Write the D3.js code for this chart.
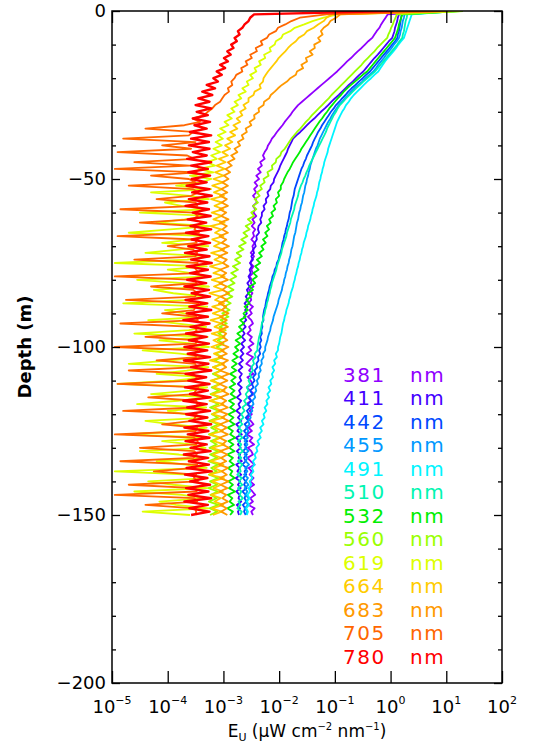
<!DOCTYPE html>
<html>
<head>
<meta charset="utf-8">
<script src="https://cdn.jsdelivr.net/npm/d3@7"></script>
<style>
  body { margin: 0; background: #fff; }
  text { font-family: "DejaVu Sans", sans-serif; fill: #000; }
</style>
</head>
<body>
<svg id="chart" width="533" height="749"></svg>
<script>
// wavelengths (nm) and the colour used for each profile
const wavelengths = [381, 411, 442, 455, 491, 510, 532, 560, 619, 664, 683, 705, 780];
const lineColors = ['#9000ff', '#4400ff', '#0048ff', '#0098ff', '#00f4ff', '#00f5b0', '#00ee00',
  '#99ff00', '#ddff00', '#ffcc00', '#ff9900', '#ff6600', '#ff0000'];

// axis ticks
const depthTicks = [0, -50, -100, -150, -200];
const depthMinorTicks = [-10, -20, -30, -40, -60, -70, -80, -90, -110, -120, -130, -140, -160, -170, -180, -190];
const euTickExponents = [-5, -4, -3, -2, -1, 0, 1, 2];

// depth of each sample (m), 1 m bins; the first one is the surface reading
const depths = d3.range(0, 151);

// log10 of upwelling radiance Eu, one value per depth bin
const logEu381 = [
  0.90, -0.05, -0.09, -0.13, -0.17, -0.20, -0.25, -0.29, -0.33, -0.40, -0.46,
  -0.52, -0.59, -0.65, -0.71, -0.78, -0.84, -0.90, -0.96, -1.03, -1.10,
  -1.17, -1.24, -1.31, -1.38, -1.45, -1.52, -1.59, -1.66, -1.71, -1.76,
  -1.80, -1.85, -1.90, -1.94, -1.99, -2.04, -2.08, -2.13, -2.16, -2.20,
  -2.22, -2.26, -2.29, -2.26, -2.34, -2.31, -2.38, -2.33, -2.41, -2.36,
  -2.44, -2.39, -2.45, -2.41, -2.47, -2.42, -2.40, -2.47, -2.43, -2.46,
  -2.41, -2.48, -2.44, -2.49, -2.43, -2.47, -2.45, -2.50, -2.44, -2.48,
  -2.46, -2.51, -2.45, -2.49, -2.52, -2.46, -2.50, -2.47, -2.53, -2.49,
  -2.51, -2.46, -2.54, -2.48, -2.52, -2.50, -2.55, -2.47, -2.53, -2.49,
  -2.56, -2.50, -2.47, -2.54, -2.51, -2.57, -2.49, -2.53, -2.46, -2.55,
  -2.50, -2.58, -2.47, -2.53, -2.59, -2.49, -2.54, -2.46, -2.57, -2.51,
  -2.48, -2.58, -2.52, -2.45, -2.56, -2.50, -2.59, -2.47, -2.53, -2.49,
  -2.57, -2.51, -2.46, -2.55, -2.49, -2.58, -2.48, -2.53, -2.45, -2.56,
  -2.50, -2.47, -2.57, -2.51, -2.44, -2.55, -2.49, -2.53, -2.46, -2.52,
  -2.45, -2.54, -2.48, -2.43, -2.52, -2.47, -2.55, -2.44, -2.50, -2.47
];
const logEu411 = [
  1.00, 0.15, 0.13, 0.12, 0.10, 0.08, 0.07, 0.05, 0.03, -0.03, -0.08,
  -0.13, -0.18, -0.23, -0.29, -0.34, -0.39, -0.44, -0.49, -0.56, -0.62,
  -0.68, -0.75, -0.81, -0.87, -0.93, -1.00, -1.06, -1.12, -1.18, -1.25,
  -1.31, -1.37, -1.44, -1.50, -1.56, -1.62, -1.69, -1.75, -1.78, -1.81,
  -1.84, -1.86, -1.89, -1.92, -1.95, -1.98, -2.00, -2.03, -2.06, -2.09,
  -2.10, -2.15, -2.16, -2.21, -2.19, -2.24, -2.23, -2.28, -2.26, -2.31,
  -2.31, -2.34, -2.32, -2.37, -2.38, -2.36, -2.41, -2.40, -2.44, -2.42,
  -2.47, -2.45, -2.50, -2.47, -2.52, -2.49, -2.53, -2.51, -2.55, -2.52,
  -2.57, -2.53, -2.58, -2.55, -2.60, -2.56, -2.62, -2.57, -2.61, -2.58,
  -2.63, -2.59, -2.65, -2.60, -2.66, -2.62, -2.67, -2.61, -2.68, -2.63,
  -2.69, -2.64, -2.70, -2.65, -2.72, -2.66, -2.73, -2.67, -2.71, -2.68,
  -2.74, -2.67, -2.72, -2.69, -2.76, -2.68, -2.73, -2.70, -2.77, -2.69,
  -2.74, -2.68, -2.77, -2.71, -2.75, -2.67, -2.78, -2.70, -2.74, -2.69,
  -2.76, -2.70, -2.73, -2.67, -2.77, -2.71, -2.75, -2.68, -2.78, -2.70,
  -2.74, -2.69, -2.77, -2.71, -2.73, -2.68, -2.76, -2.70, -2.74, -2.72
];
const logEu442 = [
  1.05, 0.20, 0.19, 0.18, 0.17, 0.16, 0.15, 0.13, 0.12, 0.08, 0.03,
  -0.02, -0.07, -0.12, -0.17, -0.22, -0.27, -0.32, -0.37, -0.44, -0.50,
  -0.57, -0.63, -0.70, -0.76, -0.81, -0.87, -0.92, -0.98, -1.02, -1.07,
  -1.11, -1.15, -1.19, -1.23, -1.26, -1.30, -1.33, -1.36, -1.39, -1.41,
  -1.44, -1.47, -1.50, -1.52, -1.55, -1.57, -1.60, -1.62, -1.64, -1.66,
  -1.68, -1.70, -1.72, -1.73, -1.74, -1.76, -1.77, -1.78, -1.79, -1.81,
  -1.82, -1.83, -1.85, -1.86, -1.88, -1.89, -1.91, -1.92, -1.94, -1.95,
  -1.96, -1.98, -2.00, -2.01, -2.04, -2.05, -2.08, -2.09, -2.12, -2.13,
  -2.15, -2.17, -2.18, -2.20, -2.21, -2.23, -2.24, -2.25, -2.27, -2.28,
  -2.29, -2.28, -2.31, -2.30, -2.32, -2.31, -2.34, -2.32, -2.35, -2.33,
  -2.36, -2.34, -2.38, -2.37, -2.41, -2.39, -2.44, -2.42, -2.47, -2.44,
  -2.49, -2.46, -2.52, -2.48, -2.54, -2.50, -2.56, -2.52, -2.58, -2.54,
  -2.60, -2.55, -2.62, -2.57, -2.63, -2.58, -2.64, -2.57, -2.62, -2.59,
  -2.65, -2.58, -2.63, -2.60, -2.66, -2.58, -2.62, -2.59, -2.65, -2.60,
  -2.63, -2.58, -2.66, -2.60, -2.62, -2.59, -2.65, -2.61, -2.63, -2.60
];
const logEu455 = [
  1.10, 0.25, 0.24, 0.22, 0.21, 0.20, 0.18, 0.17, 0.15, 0.11, 0.06,
  0.02, -0.03, -0.08, -0.12, -0.17, -0.22, -0.26, -0.31, -0.38, -0.45,
  -0.51, -0.58, -0.65, -0.71, -0.76, -0.82, -0.87, -0.93, -0.97, -1.01,
  -1.05, -1.08, -1.12, -1.15, -1.18, -1.21, -1.24, -1.27, -1.29, -1.31,
  -1.34, -1.36, -1.38, -1.40, -1.42, -1.44, -1.45, -1.47, -1.48, -1.50,
  -1.51, -1.53, -1.54, -1.55, -1.57, -1.58, -1.59, -1.61, -1.62, -1.64,
  -1.65, -1.66, -1.68, -1.69, -1.70, -1.71, -1.73, -1.74, -1.75, -1.76,
  -1.78, -1.79, -1.80, -1.82, -1.83, -1.85, -1.86, -1.88, -1.89, -1.91,
  -1.92, -1.94, -1.95, -1.97, -1.99, -2.01, -2.02, -2.04, -2.06, -2.08,
  -2.10, -2.11, -2.13, -2.15, -2.16, -2.18, -2.20, -2.21, -2.23, -2.25,
  -2.25, -2.29, -2.28, -2.32, -2.31, -2.35, -2.33, -2.37, -2.36, -2.40,
  -2.38, -2.43, -2.41, -2.45, -2.43, -2.48, -2.46, -2.51, -2.48, -2.53,
  -2.51, -2.56, -2.53, -2.59, -2.55, -2.60, -2.56, -2.62, -2.57, -2.61,
  -2.55, -2.62, -2.57, -2.60, -2.54, -2.61, -2.57, -2.63, -2.56, -2.60,
  -2.55, -2.62, -2.57, -2.61, -2.54, -2.60, -2.56, -2.62, -2.57, -2.59
];
const logEu491 = [
  1.15, 0.38, 0.36, 0.34, 0.32, 0.30, 0.28, 0.26, 0.24, 0.19, 0.14,
  0.10, 0.05, 0.00, -0.05, -0.10, -0.14, -0.18, -0.22, -0.29, -0.35,
  -0.42, -0.48, -0.54, -0.60, -0.66, -0.71, -0.75, -0.80, -0.83, -0.87,
  -0.90, -0.93, -0.96, -0.98, -1.00, -1.02, -1.04, -1.06, -1.08, -1.10,
  -1.12, -1.13, -1.15, -1.17, -1.19, -1.20, -1.22, -1.23, -1.25, -1.26,
  -1.28, -1.29, -1.30, -1.32, -1.33, -1.35, -1.37, -1.38, -1.40, -1.41,
  -1.43, -1.44, -1.46, -1.48, -1.49, -1.51, -1.52, -1.54, -1.56, -1.57,
  -1.59, -1.60, -1.62, -1.63, -1.65, -1.66, -1.68, -1.69, -1.71, -1.72,
  -1.74, -1.75, -1.77, -1.79, -1.80, -1.82, -1.83, -1.85, -1.87, -1.88,
  -1.90, -1.91, -1.93, -1.94, -1.95, -1.96, -1.98, -1.99, -2.00, -2.02,
  -2.02, -2.06, -2.04, -2.09, -2.07, -2.12, -2.09, -2.13, -2.11, -2.16,
  -2.14, -2.19, -2.16, -2.21, -2.18, -2.23, -2.21, -2.26, -2.23, -2.28,
  -2.26, -2.31, -2.28, -2.34, -2.31, -2.36, -2.33, -2.39, -2.36, -2.41,
  -2.39, -2.44, -2.42, -2.47, -2.44, -2.49, -2.46, -2.51, -2.48, -2.53,
  -2.50, -2.55, -2.52, -2.57, -2.53, -2.58, -2.54, -2.59, -2.56, -2.58
];
const logEu510 = [
  1.20, 0.30, 0.29, 0.27, 0.26, 0.25, 0.24, 0.22, 0.21, 0.16, 0.12,
  0.07, 0.02, -0.03, -0.08, -0.13, -0.18, -0.23, -0.28, -0.35, -0.42,
  -0.49, -0.55, -0.62, -0.68, -0.74, -0.80, -0.85, -0.91, -0.95, -0.98,
  -1.02, -1.05, -1.08, -1.11, -1.14, -1.16, -1.19, -1.22, -1.25, -1.28,
  -1.31, -1.34, -1.37, -1.40, -1.43, -1.46, -1.48, -1.51, -1.53, -1.56,
  -1.58, -1.61, -1.63, -1.65, -1.66, -1.68, -1.70, -1.72, -1.73, -1.75,
  -1.77, -1.79, -1.80, -1.82, -1.84, -1.86, -1.87, -1.89, -1.91, -1.93,
  -1.95, -1.96, -1.98, -2.00, -2.02, -2.04, -2.05, -2.07, -2.09, -2.11,
  -2.13, -2.14, -2.16, -2.17, -2.19, -2.20, -2.22, -2.23, -2.25, -2.26,
  -2.28, -2.29, -2.31, -2.32, -2.33, -2.34, -2.36, -2.37, -2.38, -2.39,
  -2.39, -2.44, -2.42, -2.47, -2.45, -2.50, -2.47, -2.53, -2.50, -2.55,
  -2.52, -2.58, -2.55, -2.60, -2.57, -2.63, -2.59, -2.66, -2.62, -2.68,
  -2.64, -2.71, -2.66, -2.73, -2.67, -2.72, -2.66, -2.74, -2.68, -2.71,
  -2.65, -2.73, -2.68, -2.74, -2.66, -2.71, -2.69, -2.75, -2.67, -2.72,
  -2.66, -2.74, -2.68, -2.71, -2.65, -2.73, -2.69, -2.75, -2.67, -2.70
];
const logEu532 = [
  1.25, 0.21, 0.19, 0.17, 0.15, 0.14, 0.12, 0.10, 0.08, 0.03, -0.02,
  -0.07, -0.12, -0.17, -0.22, -0.27, -0.32, -0.37, -0.42, -0.50, -0.57,
  -0.64, -0.71, -0.78, -0.84, -0.89, -0.95, -1.00, -1.05, -1.10, -1.14,
  -1.19, -1.23, -1.28, -1.32, -1.36, -1.40, -1.44, -1.48, -1.52, -1.56,
  -1.60, -1.63, -1.67, -1.71, -1.75, -1.78, -1.81, -1.85, -1.88, -1.91,
  -1.93, -1.97, -1.97, -2.02, -2.00, -2.06, -2.04, -2.10, -2.07, -2.14,
  -2.11, -2.18, -2.15, -2.22, -2.18, -2.25, -2.21, -2.29, -2.24, -2.32,
  -2.28, -2.36, -2.31, -2.40, -2.34, -2.43, -2.37, -2.46, -2.40, -2.48,
  -2.43, -2.53, -2.47, -2.56, -2.50, -2.59, -2.53, -2.62, -2.56, -2.64,
  -2.60, -2.70, -2.63, -2.72, -2.66, -2.75, -2.68, -2.78, -2.70, -2.79,
  -2.73, -2.82, -2.74, -2.84, -2.76, -2.85, -2.77, -2.88, -2.78, -2.86,
  -2.79, -2.89, -2.80, -2.87, -2.78, -2.90, -2.81, -2.88, -2.79, -2.91,
  -2.82, -2.89, -2.80, -2.92, -2.83, -2.88, -2.79, -2.91, -2.82, -2.90,
  -2.80, -2.93, -2.83, -2.89, -2.81, -2.92, -2.84, -2.88, -2.80, -2.91,
  -2.83, -2.90, -2.79, -2.92, -2.84, -2.89, -2.81, -2.93, -2.83, -2.88
];
const logEu560 = [
  1.30, 0.11, 0.09, 0.06, 0.04, 0.01, -0.01, -0.04, -0.06, -0.12, -0.18,
  -0.24, -0.29, -0.35, -0.41, -0.47, -0.52, -0.58, -0.64, -0.70, -0.76,
  -0.82, -0.88, -0.94, -1.00, -1.06, -1.11, -1.17, -1.23, -1.29, -1.35,
  -1.41, -1.46, -1.52, -1.57, -1.62, -1.68, -1.73, -1.78, -1.82, -1.86,
  -1.90, -1.96, -1.98, -2.05, -2.06, -2.13, -2.12, -2.21, -2.19, -2.28,
  -2.26, -2.34, -2.31, -2.40, -2.35, -2.44, -2.38, -2.47, -2.41, -2.50,
  -2.45, -2.56, -2.49, -2.60, -2.53, -2.64, -2.57, -2.68, -2.60, -2.72,
  -2.64, -2.76, -2.68, -2.79, -2.70, -2.83, -2.74, -2.86, -2.77, -2.88,
  -2.80, -2.92, -2.82, -2.95, -2.84, -2.97, -2.87, -2.99, -2.89, -3.02,
  -2.91, -3.05, -2.94, -3.07, -2.96, -3.09, -2.98, -3.10, -3.00, -3.12,
  -3.00, -3.14, -3.02, -3.16, -3.03, -3.18, -3.05, -3.19, -3.06, -3.20,
  -3.07, -3.21, -3.08, -3.23, -3.07, -3.22, -3.09, -3.24, -3.08, -3.21,
  -3.10, -3.25, -3.09, -3.22, -3.11, -3.26, -3.08, -3.23, -3.12, -3.25,
  -3.09, -3.24, -3.11, -3.27, -3.10, -3.22, -3.12, -3.26, -3.09, -3.24,
  -3.11, -3.27, -3.10, -3.23, -3.12, -3.26, -3.09, -3.25, -3.11, -3.24
];
const logEu619 = [
  1.25, -0.95, -1.20, -1.40, -1.55, -1.72, -1.80, -1.93, -1.96, -2.06, -2.08,
  -2.17, -2.15, -2.27, -2.25, -2.36, -2.33, -2.44, -2.41, -2.52, -2.47,
  -2.58, -2.55, -2.66, -2.60, -2.73, -2.68, -2.80, -2.74, -2.86, -2.80,
  -2.93, -2.85, -2.98, -2.91, -3.06, -2.96, -3.10, -3.01, -3.14, -3.03,
  -3.18, -3.06, -3.22, -3.12, -3.30, -3.15, -3.45, -3.18, -3.60, -3.22,
  -3.40, -3.85, -3.22, -4.30, -3.60, -3.26, -4.05, -3.75, -3.30, -4.50,
  -3.28, -3.70, -4.20, -3.24, -3.95, -4.70, -3.31, -3.55, -4.10, -3.27,
  -3.80, -4.40, -3.25, -3.65, -4.95, -3.30, -4.00, -3.58, -3.28, -4.55,
  -3.72, -3.26, -4.25, -3.90, -3.32, -3.60, -4.80, -3.29, -4.05, -3.70,
  -3.27, -4.35, -3.85, -3.31, -3.62, -4.60, -3.28, -4.15, -3.55, -3.26,
  -4.45, -3.78, -3.30, -3.95, -4.70, -3.27, -3.66, -4.20, -3.33, -3.88,
  -4.90, -3.29, -3.60, -4.30, -3.26, -3.82, -4.55, -3.31, -4.00, -3.70,
  -3.28, -4.40, -3.92, -3.30, -3.65, -4.75, -3.27, -4.10, -3.58, -3.32,
  -4.50, -3.80, -3.26, -4.20, -3.68, -3.30, -4.95, -3.62, -3.28, -4.35,
  -3.90, -3.29, -4.60, -3.75, -3.31, -4.15, -3.85, -3.27, -4.45, -3.60
];
const logEu664 = [
  1.10, -1.05, -1.15, -1.20, -1.30, -1.38, -1.50, -1.55, -1.65, -1.70, -1.78,
  -1.84, -1.89, -1.95, -2.01, -2.05, -2.10, -2.15, -2.20, -2.24, -2.28,
  -2.29, -2.35, -2.33, -2.44, -2.46, -2.55, -2.55, -2.64, -2.60, -2.70,
  -2.66, -2.76, -2.70, -2.82, -2.75, -2.88, -2.79, -2.93, -2.84, -2.97,
  -2.88, -3.02, -2.92, -3.08, -2.96, -3.12, -2.98, -3.15, -3.00, -3.18,
  -3.01, -3.20, -3.03, -3.17, -2.99, -3.22, -3.02, -3.16, -3.00, -3.21,
  -3.03, -3.18, -2.98, -3.23, -3.04, -3.15, -3.00, -3.20, -3.05, -3.17,
  -2.99, -3.22, -3.03, -3.16, -3.01, -3.24, -3.04, -3.18, -2.98, -3.21,
  -3.02, -3.17, -3.00, -3.25, -3.05, -3.15, -2.99, -3.20, -3.03, -3.19,
  -3.01, -3.23, -3.04, -3.16, -2.98, -3.21, -3.02, -3.18, -3.05, -3.22,
  -3.00, -3.17, -3.03, -3.24, -2.99, -3.19, -3.04, -3.16, -3.01, -3.23,
  -3.05, -3.18, -2.98, -3.21, -3.03, -3.25, -3.00, -3.17, -3.04, -3.20,
  -2.99, -3.22, -3.03, -3.16, -3.01, -3.24, -3.05, -3.18, -2.98, -3.21,
  -3.02, -3.19, -3.04, -3.23, -3.00, -3.17, -3.03, -3.25, -2.99, -3.20,
  -3.04, -3.18, -3.01, -3.22, -3.05, -3.16, -3.00, -3.21, -3.03, -3.19
];
const logEu683 = [
  1.00, -0.90, -0.98, -1.08, -1.12, -1.20, -1.25, -1.22, -1.30, -1.26, -1.37,
  -1.36, -1.45, -1.40, -1.52, -1.50, -1.60, -1.57, -1.68, -1.70, -1.80,
  -1.86, -1.95, -2.02, -2.08, -2.15, -2.18, -2.27, -2.28, -2.37, -2.36,
  -2.45, -2.44, -2.53, -2.50, -2.60, -2.58, -2.67, -2.64, -2.74, -2.70,
  -2.80, -2.75, -2.86, -2.80, -2.92, -2.85, -2.96, -2.88, -2.99, -2.91,
  -3.02, -2.92, -3.04, -2.93, -3.06, -2.94, -3.03, -2.92, -3.07, -2.95,
  -3.04, -2.91, -3.06, -2.94, -3.02, -2.92, -3.07, -2.95, -3.03, -2.90,
  -3.05, -2.93, -3.08, -2.94, -3.01, -2.91, -3.06, -2.95, -3.04, -2.92,
  -3.07, -2.94, -3.02, -2.90, -3.05, -2.93, -3.08, -2.95, -3.03, -2.91,
  -3.06, -2.94, -3.04, -2.92, -3.07, -2.95, -3.01, -2.93, -3.06, -2.91,
  -3.04, -2.94, -3.08, -2.92, -3.03, -2.95, -3.06, -2.90, -3.05, -2.93,
  -3.07, -2.94, -3.02, -2.91, -3.06, -2.95, -3.04, -2.92, -3.08, -2.93,
  -3.03, -2.91, -3.06, -2.94, -3.05, -2.92, -3.07, -2.95, -3.02, -2.90,
  -3.06, -2.93, -3.04, -2.95, -3.08, -2.92, -3.03, -2.94, -3.06, -2.91,
  -3.05, -2.93, -3.07, -2.95, -3.02, -2.92, -3.06, -2.94, -3.04, -2.93
];
const logEu705 = [
  0.90, -1.15, -1.63, -1.78, -1.89, -2.02, -2.06, -2.18, -2.22, -2.33, -2.30,
  -2.42, -2.40, -2.52, -2.49, -2.60, -2.57, -2.68, -2.66, -2.77, -2.80,
  -2.86, -2.84, -2.92, -2.90, -2.98, -3.02, -3.06, -3.15, -3.20, -3.28,
  -3.35, -3.55, -3.42, -3.70, -4.40, -3.55, -3.62, -4.80, -3.50, -4.10,
  -3.58, -4.90, -3.65, -3.52, -4.60, -3.60, -4.95, -3.48, -4.30, -3.62,
  -3.50, -4.70, -3.55, -3.45, -3.58, -4.20, -3.50, -3.47, -4.85, -3.53,
  -3.46, -3.55, -4.50, -3.49, -3.52, -3.44, -4.90, -3.51, -3.48, -4.00,
  -3.55, -3.47, -3.50, -4.60, -3.46, -3.53, -3.49, -3.44, -4.95, -3.52,
  -3.48, -4.30, -3.54, -3.47, -3.51, -4.75, -3.45, -3.50, -3.53, -4.10,
  -3.49, -3.46, -4.85, -3.52, -3.48, -3.55, -4.40, -3.47, -3.50, -4.95,
  -3.46, -3.53, -3.49, -4.20, -3.51, -3.47, -4.70, -3.54, -3.48, -3.52,
  -4.90, -3.45, -3.50, -3.53, -4.35, -3.49, -3.46, -3.52, -4.80, -3.48,
  -3.51, -3.55, -4.10, -3.47, -3.50, -4.95, -3.53, -3.46, -3.49, -4.50,
  -3.52, -3.48, -3.54, -4.85, -3.47, -3.51, -4.25, -3.49, -3.53, -3.46,
  -4.70, -3.50, -3.48, -4.95, -3.52, -3.47, -4.40, -3.51, -3.49, -3.50
];
const logEu780 = [
  0.05, -2.45, -2.52, -2.55, -2.62, -2.66, -2.74, -2.71, -2.80, -2.76, -2.86,
  -2.82, -2.93, -2.87, -2.99, -2.92, -3.06, -2.97, -3.12, -3.03, -3.18,
  -3.10, -3.30, -3.15, -3.38, -3.20, -3.45, -3.25, -3.50, -3.22, -3.48,
  -3.28, -3.55, -3.24, -3.52, -3.30, -3.60, -3.22, -3.58, -3.26, -3.62,
  -3.25, -3.55, -3.30, -3.65, -3.22, -3.58, -3.28, -3.63, -3.24, -3.57,
  -3.30, -3.66, -3.25, -3.56, -3.21, -3.62, -3.29, -3.68, -3.26, -3.55,
  -3.23, -3.64, -3.31, -3.59, -3.22, -3.67, -3.27, -3.57, -3.24, -3.63,
  -3.30, -3.69, -3.25, -3.58, -3.21, -3.66, -3.28, -3.60, -3.23, -3.65,
  -3.31, -3.70, -3.26, -3.57, -3.24, -3.68, -3.29, -3.61, -3.22, -3.66,
  -3.28, -3.72, -3.25, -3.59, -3.23, -3.67, -3.30, -3.62, -3.26, -3.70,
  -3.29, -3.64, -3.24, -3.71, -3.27, -3.58, -3.22, -3.68, -3.31, -3.63,
  -3.25, -3.69, -3.28, -3.60, -3.23, -3.72, -3.30, -3.65, -3.24, -3.67,
  -3.29, -3.61, -3.22, -3.70, -3.27, -3.64, -3.25, -3.68, -3.30, -3.59,
  -3.23, -3.71, -3.28, -3.62, -3.26, -3.66, -3.21, -3.69, -3.29, -3.60,
  -3.24, -3.67, -3.27, -3.63, -3.22, -3.70, -3.28, -3.61, -3.25, -3.58
];

const profiles = [logEu381, logEu411, logEu442, logEu455, logEu491, logEu510, logEu532,
  logEu560, logEu619, logEu664, logEu683, logEu705, logEu780];

const plot = { left: 112, right: 502, top: 11, bottom: 683 };

const svg = d3.select('#chart');

const x = d3.scaleLog()
  .domain([1e-5, 1e2])
  .range([plot.left, plot.right]);

const y = d3.scaleLinear()
  .domain([-200, 0])
  .range([plot.bottom, plot.top]);

svg.append('defs').append('clipPath')
  .attr('id', 'plot-clip')
  .append('rect')
  .attr('x', plot.left)
  .attr('y', plot.top)
  .attr('width', plot.right - plot.left)
  .attr('height', plot.bottom - plot.top);

// profiles
const line = d3.line()
  .x(function (d) { return x(Math.pow(10, d.v)); })
  .y(function (d) { return y(-d.depth); });

const seriesData = wavelengths.map(function (w, i) {
  return {
    wavelength: w,
    color: lineColors[i],
    points: profiles[i].map(function (v, j) { return { depth: depths[j], v: v }; })
  };
});

svg.append('g')
  .attr('clip-path', 'url(#plot-clip)')
  .selectAll('path')
  .data(seriesData)
  .enter()
  .append('path')
  .attr('d', function (d) { return line(d.points); })
  .attr('fill', 'none')
  .attr('stroke', function (d) { return d.color; })
  .attr('stroke-width', function (d) { return d.wavelength === 780 ? 2.4 : 1.8; })
  .attr('stroke-linejoin', 'round');

// axes: ticks point inwards on all four sides
const euTicks = euTickExponents.map(function (e) { return Math.pow(10, e); });

svg.append('g')
  .attr('transform', 'translate(0,' + plot.bottom + ')')
  .call(d3.axisBottom(x).tickValues(euTicks).tickSize(-12).tickSizeOuter(0).tickFormat(''));

svg.append('g')
  .attr('transform', 'translate(0,' + plot.top + ')')
  .call(d3.axisTop(x).tickValues(euTicks).tickSize(-12).tickSizeOuter(0).tickFormat(''));

svg.append('g')
  .attr('transform', 'translate(' + plot.left + ',0)')
  .call(d3.axisLeft(y).tickValues(depthTicks).tickSize(-8).tickSizeOuter(0).tickFormat(''));

svg.append('g')
  .attr('transform', 'translate(' + plot.left + ',0)')
  .call(d3.axisLeft(y).tickValues(depthMinorTicks).tickSize(-4).tickSizeOuter(0).tickFormat(''));

svg.append('g')
  .attr('transform', 'translate(' + plot.right + ',0)')
  .call(d3.axisRight(y).tickValues(depthTicks).tickSize(-8).tickSizeOuter(0).tickFormat(''));

svg.append('g')
  .attr('transform', 'translate(' + plot.right + ',0)')
  .call(d3.axisRight(y).tickValues(depthMinorTicks).tickSize(-4).tickSizeOuter(0).tickFormat(''));

svg.selectAll('.domain').remove();
svg.selectAll('.tick line').attr('stroke', '#000').attr('stroke-width', 1.3);

svg.append('rect')
  .attr('x', plot.left)
  .attr('y', plot.top)
  .attr('width', plot.right - plot.left)
  .attr('height', plot.bottom - plot.top)
  .attr('fill', 'none')
  .attr('stroke', '#000')
  .attr('stroke-width', 1.5);

// x tick labels 10^n
const xLabels = svg.selectAll('.x-label')
  .data(euTickExponents)
  .enter()
  .append('text')
  .attr('class', 'x-label')
  .attr('x', function (d) { return x(Math.pow(10, d)); })
  .attr('y', 713)
  .attr('text-anchor', 'middle')
  .style('font-size', '18px');

xLabels.append('tspan').text('10');
xLabels.append('tspan')
  .attr('dy', -9)
  .style('font-size', '11px')
  .text(function (d) { return d < 0 ? '\u2212' + (-d) : String(d); });

// y tick labels
svg.selectAll('.y-label')
  .data(depthTicks)
  .enter()
  .append('text')
  .attr('class', 'y-label')
  .attr('x', 106)
  .attr('y', function (d) { return y(d); })
  .attr('dy', '0.36em')
  .attr('text-anchor', 'end')
  .style('font-size', '18px')
  .text(function (d) { return d < 0 ? '\u2212' + (-d) : String(d); });

// axis titles
const xTitle = svg.append('text')
  .attr('x', (plot.left + plot.right) / 2)
  .attr('y', 737)
  .attr('text-anchor', 'middle')
  .style('font-size', '17px');
xTitle.append('tspan').text('E');
xTitle.append('tspan').attr('dy', 4).style('font-size', '11px').text('U');
xTitle.append('tspan').attr('dy', -4).text(' (\u03bcW cm');
xTitle.append('tspan').attr('dy', -7).style('font-size', '10px').text('\u22122');
xTitle.append('tspan').attr('dy', 7).text(' nm');
xTitle.append('tspan').attr('dy', -7).style('font-size', '10px').text('\u22121');
xTitle.append('tspan').attr('dy', 7).text(')');

svg.append('text')
  .attr('transform', 'translate(31,' + (plot.top + plot.bottom) / 2 + ') rotate(-90)')
  .attr('text-anchor', 'middle')
  .style('font-size', '18px')
  .style('font-weight', 'bold')
  .text('Depth (m)');

// legend
const legendItems = svg.selectAll('.legend')
  .data(seriesData)
  .enter()
  .append('g')
  .attr('class', 'legend')
  .attr('transform', function (d, i) {
    return 'translate(343,' + (382 + i * 23.47) + ')';
  });

legendItems.append('text')
  .attr('x', 0)
  .style('font-size', '20px')
  .style('letter-spacing', '1.5px')
  .style('fill', function (d) { return d.color; })
  .text(function (d) { return d.wavelength; });

legendItems.append('text')
  .attr('x', 67)
  .style('font-size', '20px')
  .style('letter-spacing', '1.5px')
  .style('fill', function (d) { return d.color; })
  .text('nm');
</script>
</body>
</html>
